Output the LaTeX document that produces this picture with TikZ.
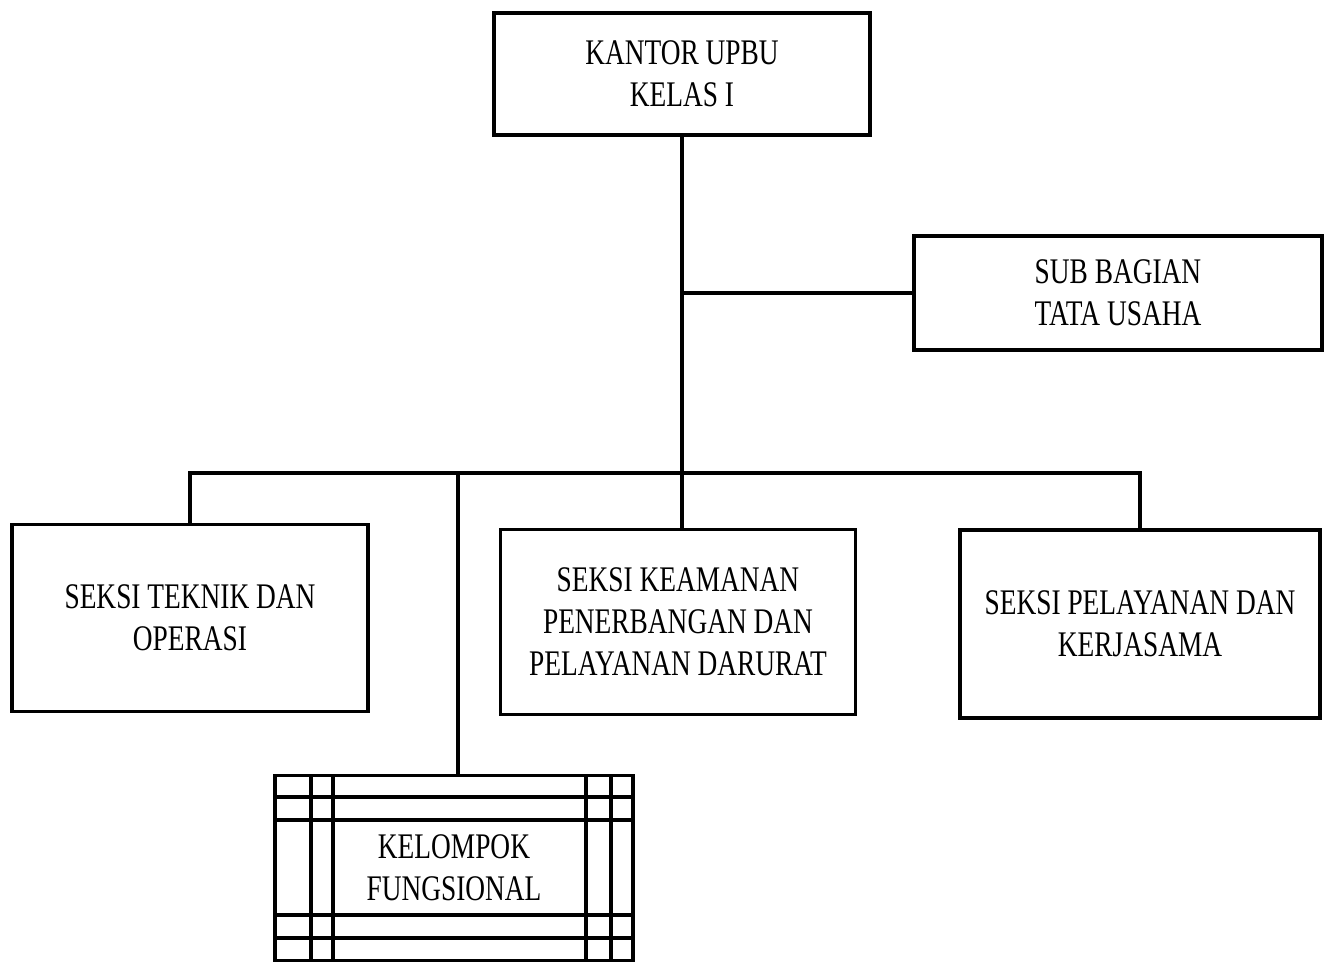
\documentclass[tikz,border=0pt]{standalone}
\usepackage{fontspec}
\setmainfont[FakeStretch=0.76]{Liberation Serif}

\begin{document}
\begin{tikzpicture}[x=0.02cm,y=-0.02cm,
  box/.style={draw,line width=2.2pt,align=center,inner sep=0pt,font=\fontsize{20.5}{24}\selectfont},
  link/.style={line width=2.2pt}]
\useasboundingbox (0,0) rectangle (1328,972); % --- page size

\node[box,minimum width=7.52cm,minimum height=2.44cm] (upbu) at (682,74) {KANTOR UPBU\\KELAS I};
\node[box,minimum width=8.16cm,minimum height=2.28cm] (tu) at (1118,293) {SUB BAGIAN\\TATA USAHA};
\node[box,minimum width=7.12cm,minimum height=3.74cm] (teknik) at (190,618) {SEKSI TEKNIK DAN\\OPERASI};
\node[box,minimum width=7.10cm,minimum height=3.70cm] (aman) at (678,622) {SEKSI KEAMANAN\\PENERBANGAN DAN\\PELAYANAN DARURAT};
\node[box,minimum width=7.20cm,minimum height=3.76cm] (layan) at (1140,624) {SEKSI PELAYANAN DAN\\KERJASAMA};
\node[box,minimum width=7.16cm,minimum height=3.70cm] (kf) at (454,868) {KELOMPOK\\FUNGSIONAL};

% --- grid lines round kelompok fungsional
\foreach \gx in {311,333,586,611} \draw[link] (\gx,776) -- (\gx,961);
\foreach \gy in {797,820,915,938} \draw[link] (275,\gy) -- (633,\gy);

\coordinate (bus) at (682,473); % --- middle of the horizontal line
\coordinate (tuj) at (682,293);
\draw[link] (upbu.south -| bus) -- (bus |- aman.north); % --- main vertical line
\draw[link] (tuj) -- (tu.west);
\draw[link] (teknik.north) -- (teknik.north |- bus) -- (layan.north |- bus) -- (layan.north);
\draw[link] (458,473) -- (458,776); % --- line to kelompok fungsional
\end{tikzpicture}
\end{document}
